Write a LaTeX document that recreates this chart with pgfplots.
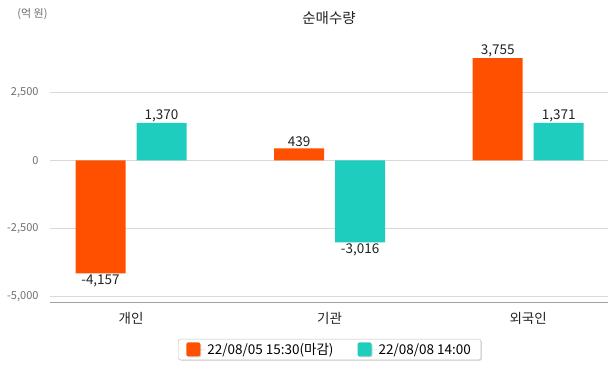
\documentclass[border=0pt]{standalone}
\usepackage{pgfplots}
\pgfplotsset{compat=1.18}
\usepackage{fontspec}
\setmainfont{Noto Sans CJK KR}
\usetikzlibrary{shadows}
\definecolor{cOr}{RGB}{255,80,0}
\definecolor{cTe}{RGB}{30,205,190}
\definecolor{cGrid}{RGB}{217,217,217}
\definecolor{cTick}{RGB}{110,110,110}
\definecolor{cAx}{RGB}{160,160,160}
\definecolor{cTxt}{RGB}{34,34,34}
\begin{document}
\begin{tikzpicture}
\begin{axis}[name=ax, scale only axis,
  width=558pt, height=272.8pt,
  xmin=-0.408, xmax=2.402, ymin=-5230, ymax=4800,
  axis x line*=bottom, axis y line*=left,
  x axis line style={draw=cAx, line width=1.2pt, -},
  y axis line style={draw=none},
  xtick={0,1,2}, xticklabels={개인,기관,외국인},
  xtick style={draw=none}, ytick style={draw=none},
  ytick={-5000,-2500,0,2500},
  ymajorgrids, grid style={cGrid, line width=0.8pt},
  /pgf/number format/assume math mode=true,
  /pgf/number format/1000 sep={,},
  yticklabel style={cTick, font=\fontsize{11}{13}\selectfont, xshift=-8pt},
  xticklabel style={cTxt, font=\fontsize{13.5}{15}\selectfont, yshift=-2pt},
  ybar, bar width=50pt,
  nodes near coords, nodes near coords align={vertical},
  every node near coord/.append style={cTxt, font=\fontsize{13.5}{15}\selectfont, inner sep=1pt},
  legend style={at={(0.501,-0.172)}, anchor=center, legend columns=2,
    rounded corners=2pt, draw=gray!50, fill=white, drop shadow={opacity=0.3, shadow xshift=1pt, shadow yshift=-1pt},
    font=\fontsize{13.5}{16}\selectfont, inner xsep=8pt, inner ysep=2pt,
    /tikz/every even column/.append style={column sep=22pt}},
  legend image code/.code={\fill[#1] (0pt,-7pt) rectangle (14pt,7pt); \path (0pt,0pt) -- (19pt,0pt);},
]
\addplot[fill=cOr, draw=none, bar shift=-30.5pt] coordinates {(0,-4157) (1,439) (2,3755)};
\addlegendentry{22/08/05 15:30(마감)}
\addplot[fill=cTe, draw=none, bar shift=30.5pt] coordinates {(0,1370) (1,-3016) (2,1371)};
\addlegendentry{22/08/08 14:00}
\end{axis}
\node[font=\fontsize{14.5}{16}\selectfont, text=cTxt] at ([xshift=279pt,yshift=284pt]ax.south west) {순매수량};
\node[font=\fontsize{11}{13}\selectfont, text=cTick] at ([xshift=-17.5pt,yshift=288.5pt]ax.south west) {(억 원)};
\pgfresetboundingbox
\useasboundingbox ([xshift=-50pt,yshift=-65.5pt]ax.south west) rectangle ++(615pt,368pt);
\end{tikzpicture}
\end{document}
